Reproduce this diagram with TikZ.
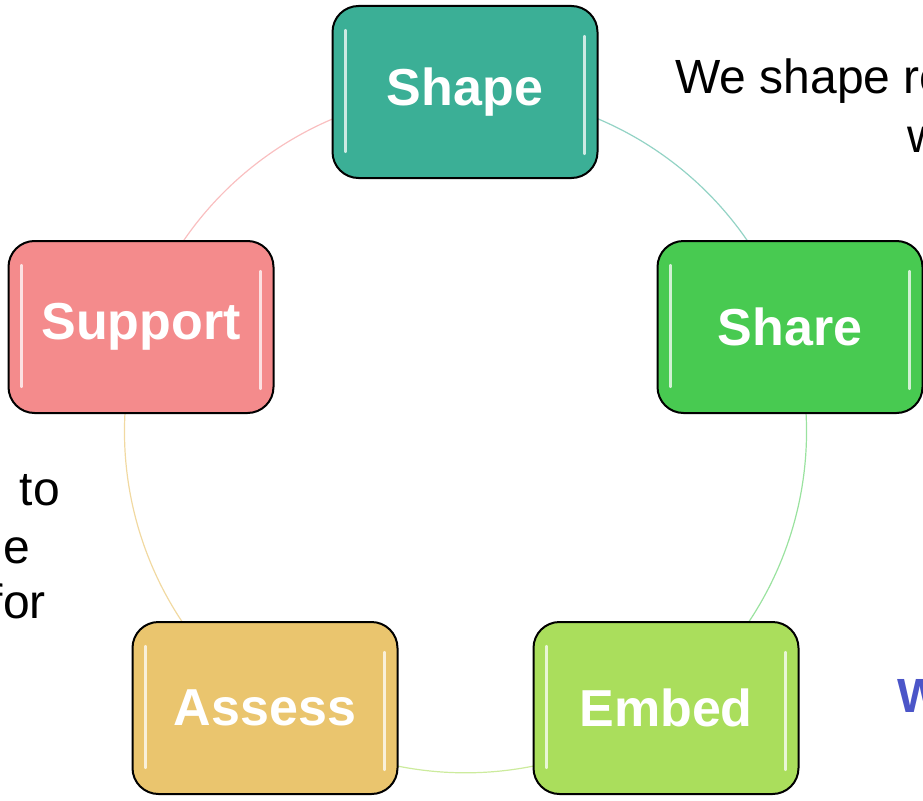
\documentclass[tikz,border=0pt]{standalone}
\usepackage{fontspec}
\setmainfont{Liberation Sans}
\usetikzlibrary{backgrounds}
\definecolor{shapecol}{HTML}{3BAF96}
\definecolor{sharecol}{HTML}{48CA51}
\definecolor{embedcol}{HTML}{AADE5C}
\definecolor{assesscol}{HTML}{EAC56E}
\definecolor{supportcol}{HTML}{F48B8C}
\definecolor{wordblue}{HTML}{4B55C8}

\begin{document}
\begin{tikzpicture}[x=1pt, y=1pt,
    stage/.style={draw=black, line width=2pt, rounded corners=26pt,
        minimum width=265pt, minimum height=172pt, inner sep=0pt,
        text=white, font=\fontsize{52}{60}\selectfont\bfseries,
        path picture={
            \draw[white, opacity=.75, line width=2.2pt, line cap=round]
                ([xshift=13pt,yshift=-24pt]path picture bounding box.north west) --
                ([xshift=13pt,yshift=26pt]path picture bounding box.south west);
            \draw[white, opacity=.75, line width=2.2pt, line cap=round]
                ([xshift=-13pt,yshift=-30pt]path picture bounding box.north east) --
                ([xshift=-13pt,yshift=24pt]path picture bounding box.south east);
        }},
    ring/.style={line width=1.2pt, bend left=36, looseness=0.94},
    side/.style={font=\fontsize{48}{58}\selectfont, inner sep=0pt}]
    \useasboundingbox (0,0) rectangle (923,-800);

    \node[stage, fill=shapecol]   (shape)   at (465,-92)  {Shape};
    \node[stage, fill=sharecol]   (share)   at (790,-327) {Share};
    \node[stage, fill=embedcol]   (embed)   at (666,-708) {Embed};
    \node[stage, fill=assesscol]  (assess)  at (265,-708) {Assess};
    \node[stage, fill=supportcol] (support) at (141,-327) {Support};

    \begin{scope}[on background layer]
    \draw[ring, shapecol!55]   (shape.center)   to (share.center);
    \draw[ring, sharecol!55]   (share.center)   to (embed.center);
    \draw[ring, embedcol!60]   (embed.center)   to (assess.center);
    \draw[ring, assesscol!65]  (assess.center)  to (support.center);
    \draw[ring, supportcol!55] (support.center) to (shape.center);
    \end{scope}

    \node[side, anchor=base west] (topline)  at (675,-93)  {We shape re};
    \node[side, anchor=base west] (topline2) at (907,-152) {w};
    \node[side, anchor=base east] (lefta)    at (60,-505)  {to};
    \node[side, anchor=base east] (leftb)    at (30,-563)  {ne};
    \node[side, anchor=base east] (leftc)    at (46,-618)  {for};
    \node[side, anchor=base west, text=wordblue, font=\fontsize{48}{58}\selectfont\bfseries] (blueword) at (897,-712) {W};
\end{tikzpicture}
\end{document}
